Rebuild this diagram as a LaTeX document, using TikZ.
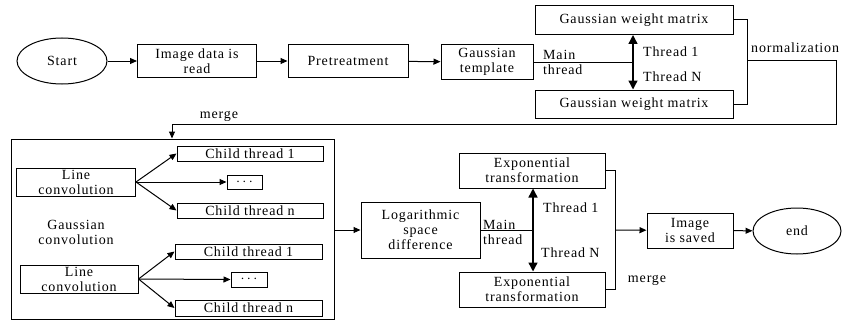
\documentclass[tikz,border=0pt]{standalone}
\usepackage{fontspec}
\setmainfont{Liberation Serif}[LetterSpace=6]
\usetikzlibrary{arrows.meta,shapes.geometric}

\begin{document}
\begin{tikzpicture}[x=1pt,y=-1pt,
 txt/.style={font=\fontsize{14}{15}\selectfont,inner sep=0pt,align=center},
 box/.style={txt,draw,line width=1pt},
 oval/.style={txt,ellipse,draw,line width=1pt},
 arr/.style={-{Triangle[length=7pt,width=6pt]},line width=1pt},
 dbl/.style={{Triangle[length=9pt,width=9pt]}-{Triangle[length=9pt,width=9pt]},line width=1.4pt}]
\useasboundingbox (0,0) rectangle (842,321);
% top row
\node[oval,minimum width=90,minimum height=46] (start) at (62,61) {Start};
\node[box,minimum width=119,minimum height=33] (read) at (197,61) {Image data is\\read};
\node[box,minimum width=120,minimum height=33] (pre) at (348,61) {Pretreatment};
\node[box,minimum width=92,minimum height=35] (tpl) at (487,62) {Gaussian\\template};
\node[box,minimum width=198,minimum height=29] (gw1) at (634,20) {Gaussian weight matrix};
\node[box,minimum width=198,minimum height=28] (gw2) at (634,104) {Gaussian weight matrix};
\draw[arr] (start) -- (read);
\draw[arr] (read) -- (pre);
\draw[arr] (pre) -- (tpl);
\coordinate (split) at (633,62);
\draw[line width=1pt] (tpl) -- (split);
\draw[dbl] (gw1.south -| split) -- (gw2.north -| split);
\node[txt,align=left,anchor=west] (mt1) at (543,62) {Main\\thread};
\node[txt,anchor=west] (t11) at (643,52) {Thread 1};
\node[txt,anchor=west] (t1n) at (643,77) {Thread N};
% normalization and merge back
\coordinate (nj) at (747,60);
\coordinate (nr) at (836,60);
\coordinate (mg) at (172,124);
\draw[line width=1pt] (gw1.east) -| (nj) |- (gw2.east);
\node[txt,anchor=west] (norm) at (751,48) {normalization};
\node[txt] (mg1) at (219,116) {merge};
% gaussian convolution frame
\node[draw,line width=1pt,minimum width=323,minimum height=180,inner sep=0pt] (frame) at (172.5,229) {};
\draw[arr] (nj) -- (nr) |- (mg) -- (mg |- frame.north);
\node[txt] (gc) at (76,232) {Gaussian\\convolution};
\node[box,minimum width=119,minimum height=28] (lc1) at (76,182) {Line\\convolution};
\node[box,minimum width=118,minimum height=28] (lc2) at (79,279) {Line\\convolution};
\node[box,minimum width=146,minimum height=15] (c11) at (250,153.5) {Child thread 1};
\node[box,minimum width=35,minimum height=14] (d1) at (244.5,182) {$\cdots$};
\node[box,minimum width=146,minimum height=15] (c1n) at (250,210.5) {Child thread n};
\node[box,minimum width=147,minimum height=15] (c21) at (248.5,251.5) {Child thread 1};
\node[box,minimum width=36,minimum height=15] (d2) at (249,279.5) {$\cdots$};
\node[box,minimum width=147,minimum height=16] (c2n) at (248.5,308) {Child thread n};
\draw[arr] (lc1.east) -- (c11.west);
\draw[arr] (lc1.east) -- (d1.west);
\draw[arr] (lc1.east) -- (c1n.west);
\draw[arr] (lc2.east) -- (c21.west);
\draw[arr] (lc2.east) -- (d2.west);
\draw[arr] (lc2.east) -- (c2n.west);
% bottom row
\node[box,minimum width=119,minimum height=56] (log) at (420.5,230) {Logarithmic\\space\\difference};
\node[box,minimum width=146,minimum height=35] (ex1) at (532,170.5) {Exponential\\transformation};
\node[box,minimum width=146,minimum height=35] (ex2) at (532,289.5) {Exponential\\transformation};
\node[box,minimum width=86,minimum height=35] (save) at (690,230.5) {Image\\is saved};
\node[oval,minimum width=88,minimum height=46] (stop) at (797,231) {end};
\draw[arr] (frame.east |- log) -- (log);
\coordinate (split2) at (533,230);
\draw[line width=1pt] (log) -- (split2);
\draw[dbl] (ex1.south -| split2) -- (ex2.north -| split2);
\node[txt,align=left,anchor=west] (mt2) at (483,232) {Main\\thread};
\node[txt,anchor=west] (t21) at (543,208) {Thread 1};
\node[txt,anchor=west] (t2n) at (541,253) {Thread N};
\coordinate (mj) at (615,230);
\draw[line width=1pt] (ex1.east) -| (mj) |- (ex2.east);
\draw[arr] (mj) -- (save);
\draw[arr] (save) -- (stop);
\node[txt] (mg2) at (647,280) {merge};
\end{tikzpicture}
\end{document}
